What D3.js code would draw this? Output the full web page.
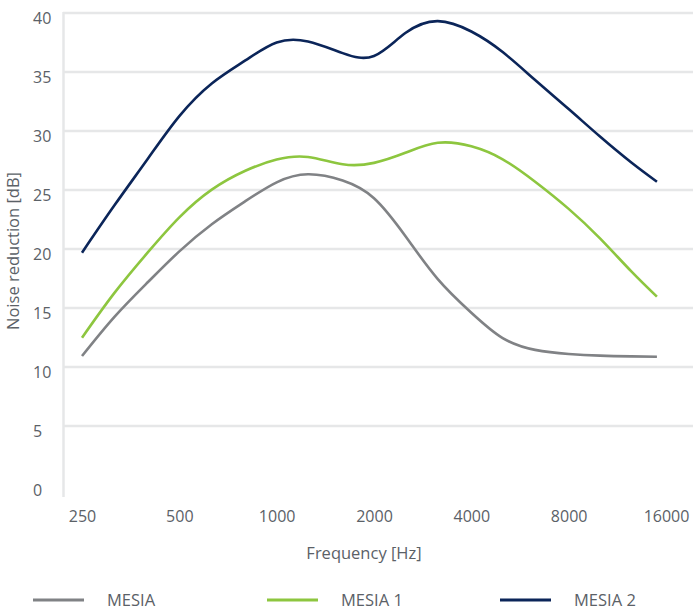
<!DOCTYPE html>
<html>
<head>
<meta charset="utf-8">
<script src="https://cdn.jsdelivr.net/npm/d3@7/dist/d3.min.js"></script>
<style>
  html, body { margin: 0; padding: 0; background: #fff; }
  svg { display: block; font-family: "Open Sans", "Noto Sans", sans-serif; }
</style>
</head>
<body>
<svg id="chart" width="693" height="612"></svg>
<script>
// Frequencies (Hz) at which values were read
const frequencies = [250, 315, 400, 500, 630, 800, 1000, 1250, 1600, 2000, 2500, 3150, 4000, 5000, 6300, 8000, 10000, 12500, 15000];
const mesia  = [10.93, 14.25, 17.2, 19.8, 22.1, 24.05, 25.65, 26.33, 25.8, 24.3, 21.1, 17.45, 14.6, 12.45, 11.45, 11.1, 10.96, 10.9, 10.87];
const mesia1 = [12.48, 16.28, 19.73, 22.68, 25.03, 26.63, 27.58, 27.8, 27.18, 27.3, 28.15, 29.0, 28.7, 27.6, 25.7, 23.4, 20.9, 18.1, 15.96];
const mesia2 = [19.69, 23.7, 27.67, 31.26, 34.03, 35.98, 37.5, 37.58, 36.6, 36.36, 38.3, 39.31, 38.43, 36.69, 34.32, 31.86, 29.53, 27.33, 25.7];
const seriesNames = ["MESIA", "MESIA 1", "MESIA 2"];
const seriesColors = ["#808285", "#8dc63f", "#0b2559"];
const xTicks = [250, 500, 1000, 2000, 4000, 8000, 16000];
const yTicks = [0, 5, 10, 15, 20, 25, 30, 35, 40];

const svg = d3.select("#chart");
const x = d3.scaleLog().base(2).domain([250, 16000]).range([82, 666]);
const y = d3.scaleLinear().domain([0, 40]).range([485, 13]);

// Gridlines (no line at 0)
svg.append("g").selectAll("line")
  .data(yTicks.filter(d => d > 0))
  .join("line")
  .attr("x1", 63).attr("x2", 693)
  .attr("y1", d => y(d)).attr("y2", d => y(d))
  .attr("stroke", "#e6e7e8").attr("stroke-width", 2.5);

// Y axis line
svg.append("line")
  .attr("x1", 63.5).attr("x2", 63.5)
  .attr("y1", y(40) - 1).attr("y2", 497)
  .attr("stroke", "#e6e7e8").attr("stroke-width", 2.5);

// Y tick labels
const yAxis = d3.axisLeft(y).tickValues(yTicks).tickSize(0).tickPadding(0);
const gy = svg.append("g").attr("transform", "translate(33,5)").call(yAxis);
gy.select(".domain").remove();
gy.selectAll("text")
  .attr("text-anchor", "start")
  .attr("x", 0)
  .attr("fill", "#5b6167")
  .style("font-size", "16px")
  .style("font-family", "'Open Sans', sans-serif");

// X tick labels
const xAxis = d3.axisBottom(x).tickValues(xTicks).tickFormat(d3.format("d")).tickSize(0).tickPadding(0);
const gx = svg.append("g").attr("transform", "translate(0,511)").call(xAxis);
gx.select(".domain").remove();
gx.selectAll("text")
  .attr("fill", "#5b6167")
  .style("font-size", "16px")
  .style("font-family", "'Open Sans', sans-serif");

// Axis titles
svg.append("text")
  .attr("x", 364).attr("y", 559)
  .attr("text-anchor", "middle")
  .attr("fill", "#5b6167")
  .style("font-size", "16.5px")
  .text("Frequency [Hz]");

svg.append("text")
  .attr("transform", "translate(19,251) rotate(-90)")
  .attr("text-anchor", "middle")
  .attr("fill", "#5b6167")
  .style("font-size", "16.5px")
  .text("Noise reduction [dB]");

// Lines
const allSeries = [mesia, mesia1, mesia2];
const line = d3.line()
  .x((d, i) => x(frequencies[i]))
  .y(d => y(d))
  .curve(d3.curveNatural);

svg.append("g").selectAll("path")
  .data(allSeries)
  .join("path")
  .attr("d", d => line(d))
  .attr("fill", "none")
  .attr("stroke", (d, i) => seriesColors[i])
  .attr("stroke-width", 2.6);

// Legend
const legendX = [33, 267, 500];
const lg = svg.append("g").selectAll("g")
  .data(seriesNames)
  .join("g")
  .attr("transform", (d, i) => `translate(${legendX[i]},600)`);
lg.append("line")
  .attr("x1", 0).attr("x2", 51)
  .attr("y1", 0).attr("y2", 0)
  .attr("stroke", (d, i) => seriesColors[i])
  .attr("stroke-width", 3);
lg.append("text")
  .attr("x", 74).attr("y", 6)
  .attr("fill", "#5b6167")
  .style("font-size", "16.5px")
  .text(d => d);
</script>
</body>
</html>
